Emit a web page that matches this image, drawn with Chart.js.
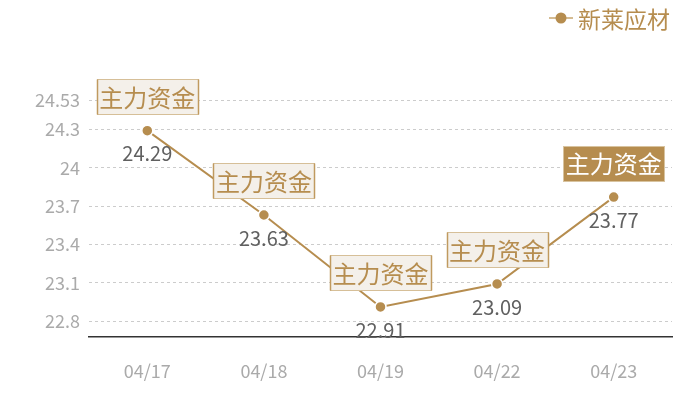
<!DOCTYPE html>
<html>
<head>
<meta charset="utf-8">
<script src="https://cdn.jsdelivr.net/npm/chart.js@4"></script>
<style>
html,body{margin:0;padding:0;background:#fff;}
#wrap{width:700px;height:400px;}
</style>
</head>
<body>
<div id="wrap"><canvas id="c" width="700" height="400"></canvas></div>
<script>
const categories = ["04/17","04/18","04/19","04/22","04/23"];
const seriesName = "新莱应材";
const values = [24.29, 23.63, 22.91, 23.09, 23.77];
const yTicks = [22.8, 23.1, 23.4, 23.7, 24, 24.3, 24.53];
const flagText = "主力资金";
const highlightIndex = 4;

const FONT = '"Noto Sans CJK SC", "Noto Sans", sans-serif';
const GOLD = '#b68d4f';

const labelPlugin = {
  id: 'labels',
  afterDatasetsDraw(chart) {
    const ctx = chart.ctx;
    const meta = chart.getDatasetMeta(0);
    ctx.save();
    meta.data.forEach((pt, i) => {
      const x = pt.x, y = pt.y;
      ctx.font = '20px ' + FONT;
      ctx.fillStyle = '#606060';
      ctx.textAlign = 'center';
      ctx.textBaseline = 'middle';
      ctx.fillText(String(values[i]), x, y + 23);
      ctx.font = '24px ' + FONT;
      const w = 101, h = 35;
      const bx = Math.round(x - w / 2) + 0.5, by = Math.round(y - 34 - h / 2) + 0.5;
      if (i === highlightIndex) {
        ctx.fillStyle = GOLD;
        ctx.fillRect(bx, by, w, h);
        ctx.strokeStyle = '#d8c39f';
        ctx.lineWidth = 1;
        ctx.strokeRect(bx, by, w, h);
        ctx.fillStyle = '#ffffff';
      } else {
        ctx.fillStyle = '#f4f0ea';
        ctx.fillRect(bx, by, w, h);
        ctx.strokeStyle = '#d6bf98';
        ctx.lineWidth = 1;
        ctx.strokeRect(bx, by, w, h);
        ctx.strokeStyle = '#c09a5f';
        ctx.lineWidth = 1.5;
        ctx.beginPath();
        ctx.moveTo(bx, by); ctx.lineTo(bx, by + h);
        ctx.moveTo(bx + w, by); ctx.lineTo(bx + w, by + h);
        ctx.stroke();
        ctx.fillStyle = GOLD;
      }
      ctx.fillText(flagText, x, y - 34 + 1);
    });
    ctx.font = '23px ' + FONT;
    ctx.textAlign = 'left';
    ctx.textBaseline = 'middle';
    const ly = 18;
    ctx.strokeStyle = '#d5bc93';
    ctx.lineWidth = 2;
    ctx.beginPath();
    ctx.moveTo(549, ly); ctx.lineTo(573, ly);
    ctx.stroke();
    ctx.fillStyle = GOLD;
    ctx.beginPath();
    ctx.arc(561, ly, 5.5, 0, Math.PI * 2);
    ctx.fill();
    ctx.fillText(seriesName, 578, ly + 1);
    ctx.restore();
  }
};

new Chart(document.getElementById('c'), {
  type: 'line',
  data: {
    labels: categories,
    datasets: [{
      label: seriesName,
      data: values,
      borderColor: GOLD,
      borderWidth: 2,
      pointBackgroundColor: GOLD,
      pointBorderColor: '#ffffff',
      pointBorderWidth: 1.5,
      pointRadius: 5.5,
      tension: 0,
      fill: false
    }]
  },
  options: {
    responsive: false,
    animation: false,
    devicePixelRatio: 1,
    layout: { padding: { top: 100, right: 28, bottom: 0, left: 0 } },
    plugins: { legend: { display: false }, tooltip: { enabled: false } },
    scales: {
      x: {
        offset: true,
        grid: { display: false, drawTicks: false },
        border: { display: true, color: '#333333', width: 1.5 },
        afterFit(scale) { scale.height = 63; },
        ticks: { color: '#aaaaaa', font: { family: FONT, size: 18 }, padding: 23 }
      },
      y: {
        min: 22.675,
        max: 24.53,
        afterBuildTicks(scale) { scale.ticks = yTicks.map(v => ({ value: v })); },
        afterFit(scale) { scale.width = 89; },
        grid: { color: '#cccccc', drawTicks: false, lineWidth: 1 },
        border: { display: false, dash: [3, 3] },
        ticks: {
          color: '#aaaaaa',
          font: { family: FONT, size: 18 },
          padding: 9,
          callback: (v) => String(v)
        }
      }
    }
  },
  plugins: [labelPlugin]
});
</script>
</body>
</html>
